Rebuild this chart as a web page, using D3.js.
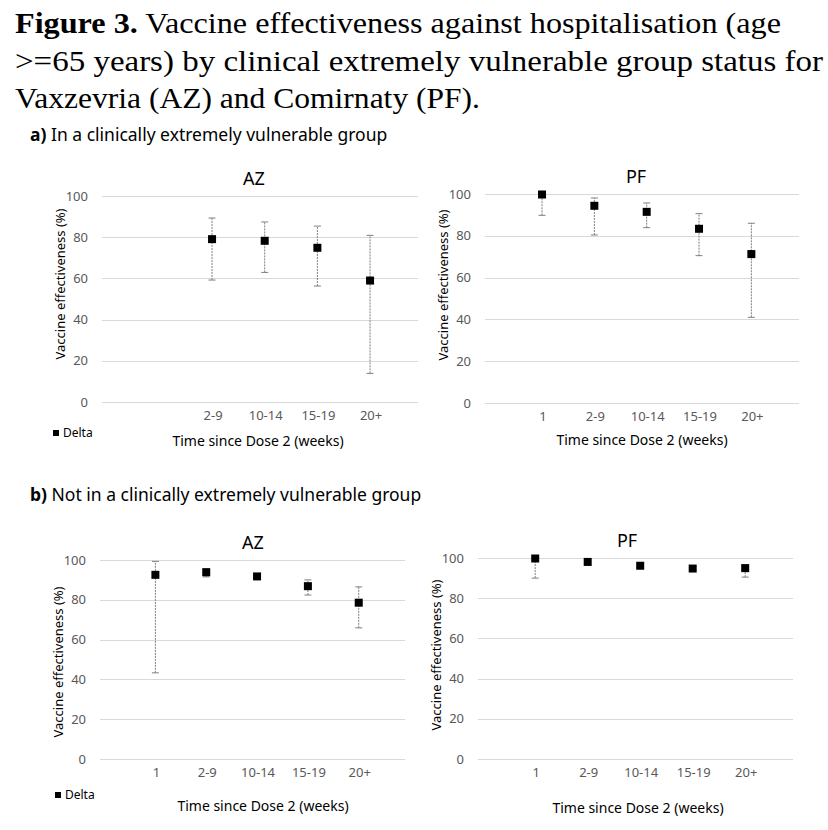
<!DOCTYPE html>
<html lang="en">
<head>
<meta charset="UTF-8">
<title>Figure 3 - Vaccine effectiveness</title>
<script src="https://cdn.jsdelivr.net/npm/d3@7"></script>
<style>
  html, body { margin: 0; padding: 0; background: #fff; }
  .tick text { font-family: "Noto Sans", sans-serif; font-size: 13px; fill: #595959; }
  .grid line { stroke: #d9d9d9; stroke-width: 1; }
  .domain { display: none; }
</style>
</head>
<body>
<div id="chart"></div>
<script>
// categories and tick labels
var categories = ["1", "2-9", "10-14", "15-19", "20+"];
var azCevLabels = ["", "2-9", "10-14", "15-19", "20+"];
var yTicks = [0, 20, 40, 60, 80, 100];

// a) in a clinically extremely vulnerable group
var azCevValue = [null, 79.3, 78.5, 75.1, 59.2];
var azCevLower = [null, 59.2, 62.9, 56.3, 13.9];
var azCevUpper = [null, 89.3, 87.4, 85.4, 80.9];

var pfCevValue = [100, 94.6, 91.7, 83.6, 71.5];
var pfCevLower = [89.8, 80.4, 83.9, 70.5, 41.0];
var pfCevUpper = [100, 98.1, 95.7, 90.6, 86.0];

// b) not in a clinically extremely vulnerable group
var azNonValue = [92.8, 94.1, 92.0, 87.1, 78.8];
var azNonLower = [43.3, 91.5, 90.5, 82.4, 65.9];
var azNonUpper = [99.3, 95.7, 93.1, 90.0, 86.5];

var pfNonValue = [100, 98.3, 96.4, 95.0, 95.2];
var pfNonLower = [90.0, 96.5, 95.4, 93.9, 90.5];
var pfNonUpper = [100, 99.7, 97.3, 96.0, 96.7];

var titleLines = [
  [{ t: "Figure 3.", b: true }, { t: " Vaccine effectiveness against hospitalisation (age", b: false }],
  [{ t: ">=65 years) by clinical extremely vulnerable group status for", b: false }],
  [{ t: "Vaxzevria (AZ) and Comirnaty (PF).", b: false }]
];

var panels = [
  { name: "AZ", labels: azCevLabels, value: azCevValue, lower: azCevLower, upper: azCevUpper,
    x0: 102, x1: 418, yTop: 196, yBot: 402, titleX: 254, titleY: 185, yTitleY: 284, xTitleX: 258, xTitleY: 446,
    legend: [53, 437] },
  { name: "PF", labels: categories, value: pfCevValue, lower: pfCevLower, upper: pfCevUpper,
    x0: 485, x1: 799, yTop: 194, yBot: 403, titleX: 636, titleY: 183, yTitleY: 285, xTitleX: 642, xTitleY: 445,
    legend: null },
  { name: "AZ", labels: categories, value: azNonValue, lower: azNonLower, upper: azNonUpper,
    x0: 100, x1: 405, yTop: 560, yBot: 759, titleX: 253, titleY: 549, yTitleY: 662, xTitleX: 263, xTitleY: 811,
    legend: [55, 799] },
  { name: "PF", labels: categories, value: pfNonValue, lower: pfNonLower, upper: pfNonUpper,
    x0: 478, x1: 793, yTop: 558, yBot: 759, titleX: 627, titleY: 547, yTitleY: 655, xTitleX: 638, xTitleY: 813,
    legend: null }
];

var svg = d3.select("#chart").append("svg")
  .attr("width", 828)
  .attr("height", 830);

// figure caption, the scan is a bit wider than the font so stretch each line
var capWidths = [766, 808, 465];
titleLines.forEach(function (line, i) {
  var t = svg.append("text")
    .attr("x", 15)
    .attr("y", [33, 71, 108][i])
    .attr("textLength", capWidths[i])
    .attr("lengthAdjust", "spacingAndGlyphs")
    .style("font-family", "'Liberation Serif', 'Times New Roman', serif")
    .style("font-size", "29px")
    .style("fill", "#000");
  line.forEach(function (part) {
    t.append("tspan").style("font-weight", part.b ? "bold" : "normal").text(part.t);
  });
});

// section headings
function heading(y, letter, rest) {
  var t = svg.append("text")
    .attr("x", 30).attr("y", y)
    .style("font-family", "'Noto Sans', sans-serif")
    .style("font-size", "17.5px")
    .style("fill", "#000");
  t.append("tspan").style("font-weight", "bold").text(letter);
  t.append("tspan").text(rest);
}
heading(141, "a)", " In a clinically extremely vulnerable group");
heading(501, "b)", " Not in a clinically extremely vulnerable group");

panels.forEach(function (p) {
  var g = svg.append("g");

  var x = d3.scalePoint()
    .domain(categories)
    .range([p.x0, p.x1])
    .padding(1)
    .align(0.54);

  var y = d3.scaleLinear()
    .domain([0, 100])
    .range([p.yBot, p.yTop]);

  // gridlines
  g.append("g")
    .attr("class", "grid")
    .selectAll("line")
    .data(yTicks)
    .enter()
    .append("line")
    .attr("x1", p.x0)
    .attr("x2", p.x1)
    .attr("y1", function (d) { return Math.round(y(d)) + 0.5; })
    .attr("y2", function (d) { return Math.round(y(d)) + 0.5; });

  // y axis
  g.append("g")
    .attr("transform", "translate(" + (p.x0 - 14) + ",0)")
    .call(d3.axisLeft(y).tickValues(yTicks).tickSize(0).tickPadding(0));

  // x axis
  var labelMap = {};
  categories.forEach(function (c, i) { labelMap[c] = p.labels[i]; });
  g.append("g")
    .attr("transform", "translate(1," + (p.yBot + 9) + ")")
    .call(d3.axisBottom(x).tickSize(0).tickPadding(0).tickFormat(function (d) { return labelMap[d]; }));

  var pts = categories.map(function (c, i) {
    return { cat: c, v: p.value[i], lo: p.lower[i], hi: p.upper[i] };
  }).filter(function (d) { return d.v !== null; });

  // error bars
  var eb = g.append("g").selectAll("g")
    .data(pts)
    .enter()
    .append("g")
    .attr("stroke", "#7f7f7f")
    .attr("stroke-width", 1);

  eb.append("line")
    .attr("x1", function (d) { return x(d.cat) + 0.5; })
    .attr("x2", function (d) { return x(d.cat) + 0.5; })
    .attr("y1", function (d) { return y(d.lo); })
    .attr("y2", function (d) { return y(d.hi); })
    .attr("stroke-dasharray", "2,1");

  ["lo", "hi"].forEach(function (k) {
    eb.append("line")
      .attr("x1", function (d) { return x(d.cat) - 3; })
      .attr("x2", function (d) { return x(d.cat) + 4; })
      .attr("y1", function (d) { return y(d[k]); })
      .attr("y2", function (d) { return y(d[k]); });
  });

  // markers
  g.append("g").selectAll("rect")
    .data(pts)
    .enter()
    .append("rect")
    .attr("x", function (d) { return x(d.cat) - 3.5; })
    .attr("y", function (d) { return y(d.v) - 3.5; })
    .attr("width", 8)
    .attr("height", 8)
    .attr("fill", "#000");

  // panel title
  g.append("text")
    .attr("x", p.titleX).attr("y", p.titleY)
    .attr("text-anchor", "middle")
    .style("font-family", "'Noto Sans', sans-serif")
    .style("font-size", "18px")
    .style("fill", "#000")
    .text(p.name);

  // y title
  g.append("text")
    .attr("transform", "translate(" + (p.x0 - 37) + "," + p.yTitleY + ") rotate(-90)")
    .attr("text-anchor", "middle")
    .style("font-family", "'Noto Sans', sans-serif")
    .style("font-size", "13px")
    .style("fill", "#000")
    .text("Vaccine effectiveness (%)");

  // x title
  g.append("text")
    .attr("x", p.xTitleX).attr("y", p.xTitleY)
    .attr("text-anchor", "middle")
    .style("font-family", "'Noto Sans', sans-serif")
    .style("font-size", "14px")
    .style("fill", "#000")
    .text("Time since Dose 2 (weeks)");

  // legend
  if (p.legend) {
    g.append("rect")
      .attr("x", p.legend[0]).attr("y", p.legend[1] - 7)
      .attr("width", 6).attr("height", 6)
      .attr("fill", "#000");
    g.append("text")
      .attr("x", p.legend[0] + 10).attr("y", p.legend[1])
      .style("font-family", "'Noto Sans', sans-serif")
      .style("font-size", "12px")
      .style("fill", "#000")
      .text("Delta");
  }
});
</script>
</body>
</html>
